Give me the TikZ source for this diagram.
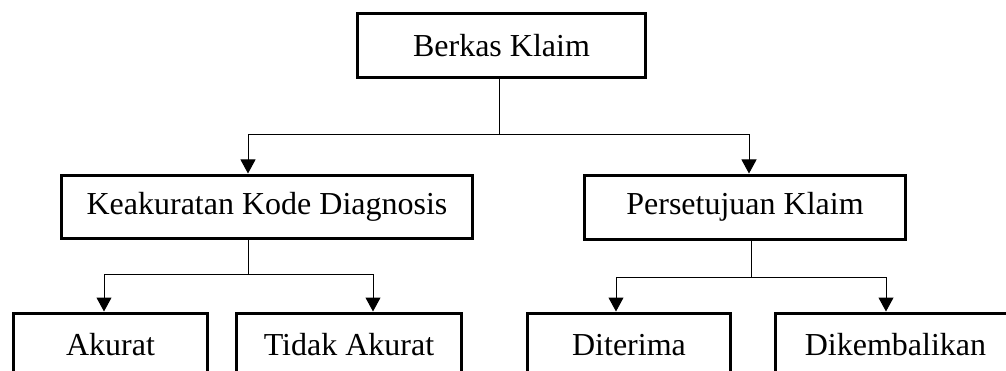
\documentclass[tikz,border=0pt]{standalone}
\usepackage{fontspec}
\setmainfont{Liberation Serif}
\usetikzlibrary{arrows.meta,positioning}

\begin{document}
\begin{tikzpicture}[
  x=1pt,
  y=1pt,
  font=\fontsize{16}{19}\selectfont,
  box/.style={
    rectangle,
    draw,
    line width=1.5pt,
    minimum height=32pt,
    align=center,
    inner sep=2pt
  },
  link/.style={
    line width=0.5pt
  },
  arr/.style={
    link,
    -{Triangle[length=7pt,width=7.5pt]}
  }
]
\clip (0,0) rectangle (503,185);
\node[box, minimum width=144pt] (berkas) at (250.75,162) {Berkas Klaim};
\node[
  box,
  minimum width=205.5pt,
  minimum height=31.5pt
] (keak) at (133.5,81.75)
{Keakuratan Kode Diagnosis};
\node[
  box,
  minimum width=160.5pt
] (pers) at (372.5,81.5)
{Persetujuan Klaim};
\node[box, minimum width=97pt] (akurat) at (55.25,12.5) {Akurat};
\node[box, minimum width=112.5pt] (tidak) at (174.5,12.5) {Tidak Akurat};
\node[box, minimum width=101.5pt] (diterima) at (314.5,12.5) {Diterima};
\node[box, minimum width=120pt] (dikemb) at (447.75,12.5) {Dikembalikan};
% level 1
\draw[link]
  ([xshift=-1.25pt]berkas.south) -- ++(0,-27.75)
  coordinate (split1);
\draw[arr] (split1) -| ([xshift=-9.5pt]keak.north);
\draw[arr] (split1) -| ([xshift=2pt]pers.north);
% level 2
\draw[link]
  ([xshift=-9.5pt]keak.south) -- ++(0,-17.5)
  coordinate (split2);
\draw[arr] (split2) -| ([xshift=-3.25pt]akurat.north);
\draw[arr] (split2) -| ([xshift=12pt]tidak.north);
\draw[link]
  ([xshift=3pt]pers.south) -- ++(0,-18.5)
  coordinate (split3);
\draw[arr] (split3) -| ([xshift=-6.5pt]diterima.north);
\draw[arr] (split3) -| ([xshift=-4.75pt]dikemb.north);
\end{tikzpicture}
\end{document}
